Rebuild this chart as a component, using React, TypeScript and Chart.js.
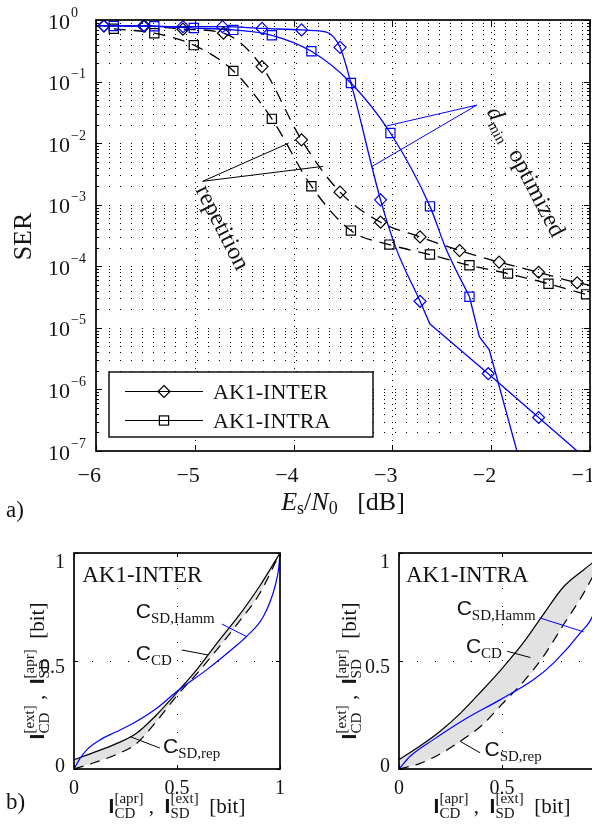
import React, { useEffect, useRef } from 'react';
import { Chart, registerables } from 'chart.js';

Chart.register(...registerables);

const SERIF = '"Liberation Serif","Times New Roman",Times,serif';
const SANS = '"Liberation Sans",Arial,Helvetica,sans-serif';
const INK = '#141414';
const BLUE = '#0000ff';

// ---------------- (a) SER vs Es/N0 ----------------
const xTicksA = [-6, -5, -4, -3, -2, -1];
const yDecadesA = [0, -1, -2, -3, -4, -5, -6, -7];
const legendLabelsA = ['AK1-INTER', 'AK1-INTRA'];

// dmin optimized, AK1-INTER (blue, diamonds): smooth upper part, straight lower part
const optInterUpperX = [-6, -5.92, -5.52, -5.12, -4.72, -4.32, -3.92, -3.75, -3.64, -3.53, -3.42, -3.12, -2.96, -2.72, -2.62];
const optInterUpperY = [0.8, 0.8, 0.8, 0.78, 0.78, 0.73, 0.69, 0.665, 0.61, 0.36, 0.095, 1.2e-3, 1.9e-4, 2.7e-5, 1.15e-5];
const optInterLowerX = [-2.62, -2.03, -1.52, -1.13, -0.9];
const optInterLowerY = [1.15e-5, 1.8e-6, 3.5e-7, 1.0e-7, 4.9e-8];
const optInterMarkX = [-5.92, -5.52, -5.12, -4.72, -4.32, -3.92, -3.53, -3.12, -2.72, -2.03, -1.52];
const optInterMarkY = [0.8, 0.8, 0.78, 0.78, 0.73, 0.69, 0.36, 1.2e-3, 2.7e-5, 1.8e-6, 3.5e-7];

// dmin optimized, AK1-INTRA (blue, squares)
const optIntraUpperX = [-6, -5.82, -5.41, -5.01, -4.61, -4.22, -3.82, -3.42, -3.02, -2.62, -2.46, -2.22];
const optIntraUpperY = [0.8, 0.8, 0.79, 0.74, 0.69, 0.565, 0.31, 0.095, 0.0146, 9.4e-4, 1.96e-4, 3.2e-5];
const optIntraLowerX = [-2.22, -2.12, -2.02, -1.74, -1.6];
const optIntraLowerY = [3.2e-5, 7.2e-6, 4.4e-6, 1.0e-7, 1.4e-8];
const optIntraMarkX = [-5.82, -5.41, -5.01, -4.61, -4.22, -3.82, -3.42, -3.02, -2.62, -2.22];
const optIntraMarkY = [0.8, 0.79, 0.74, 0.69, 0.565, 0.31, 0.095, 0.0146, 9.4e-4, 3.2e-5];

// repetition, AK1-INTER (black dashed, diamonds)
const repInterX = [-5.92, -5.51, -5.12, -4.71, -4.32, -3.92, -3.53, -3.12, -2.72, -2.32, -1.92, -1.52, -1.13, -0.9];
const repInterY = [0.8, 0.8, 0.71, 0.61, 0.175, 0.0113, 1.6e-3, 5.2e-4, 3.0e-4, 1.8e-4, 1.17e-4, 8.0e-5, 5.4e-5, 4.6e-5];
const repInterMarks = 13;

// repetition, AK1-INTRA (black dashed, squares)
const repIntraX = [-5.82, -5.41, -5.01, -4.61, -4.22, -3.82, -3.42, -3.03, -2.62, -2.22, -1.83, -1.42, -1.04, -0.8];
const repIntraY = [0.72, 0.61, 0.39, 0.149, 0.0248, 2.0e-3, 3.8e-4, 2.25e-4, 1.55e-4, 1.04e-4, 7.6e-5, 5.2e-5, 3.5e-5, 2.9e-5];
const repIntraMarks = 13;

// annotations (data coordinates)
const repTextA = { x: -4.74, y: 4.1e-4, angle: 63 };
const repPtrA = [[-4.92, 2.4e-3, -4.05, 1.0e-2], [-4.92, 2.4e-3, -3.70, 4.2e-3]];
const dminTextA = { x: -1.67, y: 3.3e-3, angle: 62.5 };
const dminPtrA = [[-2.145, 4.15e-2, -3.06, 1.9e-2], [-2.145, 4.15e-2, -3.215, 4.1e-3]];

// ---------------- (b) EXIT charts ----------------
const exitX = [0, 0.1, 0.2, 0.3, 0.4, 0.5, 0.6, 0.7, 0.8, 0.9, 1];
const exitTicks = [0, 0.5, 1];
const exitTickLabels = ['0', '0.5', '1'];

const interCD = [0.043, 0.078, 0.115, 0.163, 0.25, 0.355, 0.465, 0.59, 0.71, 0.845, 1];
const interRep = [0, 0.03, 0.065, 0.115, 0.22, 0.34, 0.445, 0.56, 0.68, 0.81, 1];
const interHammX = [0, 0.03, 0.063, 0.128, 0.2, 0.29, 0.4, 0.5, 0.645, 0.774, 0.838, 0.92, 0.976, 0.995, 1];
const interHammY = [0, 0.05, 0.09, 0.136, 0.17, 0.213, 0.28, 0.36, 0.46, 0.56, 0.614, 0.707, 0.846, 0.94, 1];

const intraCD = [0.043, 0.105, 0.175, 0.26, 0.36, 0.465, 0.58, 0.715, 0.845, 0.925, 1];
const intraRep = [0, 0.025, 0.07, 0.13, 0.2, 0.3, 0.4, 0.52, 0.67, 0.82, 1];
const intraHammX = [0, 0.054, 0.167, 0.33, 0.49, 0.654, 0.75, 0.88, 0.945, 0.98, 1];
const intraHammY = [0, 0.059, 0.136, 0.236, 0.32, 0.414, 0.49, 0.63, 0.72, 0.85, 1];

const darkX = [0, 0.04];
const darkTop = [0.043, 0.058];
const darkBottom = [0, 0.058];

const pts = (xs: number[], ys: number[]) => xs.map((x, i) => ({ x, y: ys[i] }));

// ---------------- text helpers ----------------
type Piece = { t: string; f: string; dy?: number };
type Seg = Piece | { stack: Piece[] };

function drawRich(ctx: CanvasRenderingContext2D, segs: Seg[], x: number, y: number, align: 'left' | 'center' | 'right', angleDeg = 0, color = INK) {
  ctx.save();
  ctx.translate(x, y);
  if (angleDeg) ctx.rotate((angleDeg * Math.PI) / 180);
  ctx.textAlign = 'left';
  ctx.textBaseline = 'alphabetic';
  ctx.fillStyle = color;
  const ws = segs.map((s) => {
    const parts = 'stack' in s ? s.stack : [s];
    let w = 0;
    for (const p of parts) { ctx.font = p.f; w = Math.max(w, ctx.measureText(p.t).width); }
    return w;
  });
  const total = ws.reduce((a, b) => a + b, 0);
  let cx = align === 'center' ? -total / 2 : align === 'right' ? -total : 0;
  segs.forEach((s, i) => {
    const parts = 'stack' in s ? s.stack : [s];
    for (const p of parts) { ctx.font = p.f; ctx.fillText(p.t, cx, p.dy || 0); }
    cx += ws[i];
  });
  ctx.restore();
}

function line(ctx: CanvasRenderingContext2D, x1: number, y1: number, x2: number, y2: number) {
  ctx.beginPath(); ctx.moveTo(x1, y1); ctx.lineTo(x2, y2); ctx.stroke();
}

function diamond(ctx: CanvasRenderingContext2D, x: number, y: number, r: number) {
  ctx.beginPath(); ctx.moveTo(x, y - r); ctx.lineTo(x + r, y); ctx.lineTo(x, y + r); ctx.lineTo(x - r, y); ctx.closePath(); ctx.stroke();
}

// ---------------- plugin (a) ----------------
const plugA = {
  id: 'figA',
  beforeDatasetsDraw(chart: any) {
    const { ctx, chartArea: ca } = chart;
    const sx = chart.scales.x, sy = chart.scales.y;
    ctx.save();
    ctx.strokeStyle = '#000';
    ctx.lineWidth = 1;
    ctx.setLineDash([1, 10]);
    ctx.lineDashOffset = 9;
    for (let e = -7; e < 0; e++) {
      for (let m = 1; m < 10; m++) {
        const py = Math.round(sy.getPixelForValue(m * Math.pow(10, e))) + 0.5;
        if (py < ca.top + 2 || py > ca.bottom - 2) continue;
        line(ctx, ca.left, py, ca.right, py);
      }
    }
    ctx.setLineDash([1, 5]);
    ctx.lineDashOffset = 0;
    for (const t of xTicksA) {
      const px = Math.round(sx.getPixelForValue(t)) + 0.5;
      if (px < ca.left + 2 || px > ca.right - 2) continue;
      line(ctx, px, ca.top, px, ca.bottom);
    }
    ctx.restore();
  },
  afterDatasetsDraw(chart: any) {
    const { ctx, chartArea: ca } = chart;
    const sx = chart.scales.x, sy = chart.scales.y;
    const X = (v: number) => sx.getPixelForValue(v);
    const Y = (v: number) => sy.getPixelForValue(v);
    ctx.save();
    ctx.strokeStyle = '#000';
    ctx.lineWidth = 1;
    for (const t of xTicksA) {
      const px = Math.round(X(t)) + 0.5;
      line(ctx, px, ca.bottom, px, ca.bottom - 6);
      line(ctx, px, ca.top, px, ca.top + 6);
    }
    for (let e = -7; e <= 0; e++) {
      for (let m = 1; m < 10; m++) {
        const v = m * Math.pow(10, e);
        if (v > 1) break;
        const py = Math.round(Y(v)) + 0.5;
        const len = m === 1 ? 6 : 3;
        line(ctx, ca.left, py, ca.left + len, py);
        line(ctx, ca.right, py, ca.right - len, py);
      }
    }
    ctx.lineWidth = 1.7;
    ctx.strokeRect(ca.left, ca.top, ca.right - ca.left, ca.bottom - ca.top);

    for (const e of yDecadesA) {
      const py = Y(Math.pow(10, e));
      drawRich(ctx, [{ t: '10', f: `22px ${SERIF}` }], ca.left - 48, py + 8.5, 'left');
      drawRich(ctx, [{ t: e === 0 ? '0' : '\u2212' + -e, f: `14px ${SERIF}` }], ca.left - 25, py - 3.5, 'left');
    }
    for (const t of xTicksA) {
      drawRich(ctx, [{ t: t < 0 ? '\u2212' + -t : String(t), f: `22px ${SERIF}` }], X(t) + 5, ca.bottom + 31, 'right');
    }
    drawRich(ctx, [{ t: 'SER', f: `26px ${SERIF}` }], 31, (ca.top + ca.bottom) / 2 + 1, 'center', -90);
    drawRich(ctx, [
      { t: 'E', f: `italic 26px ${SERIF}` },
      { t: 's', f: `18px ${SERIF}`, dy: 4 },
      { t: '/', f: `26px ${SERIF}` },
      { t: 'N', f: `italic 26px ${SERIF}` },
      { t: '0', f: `18px ${SERIF}`, dy: 4 },
      { t: '   [dB]', f: `26px ${SERIF}` },
    ], (ca.left + ca.right) / 2, ca.bottom + 59, 'center');
    drawRich(ctx, [{ t: 'a)', f: `23px ${SERIF}` }], 6, ca.bottom + 66, 'left');

    ctx.strokeStyle = '#000';
    ctx.lineWidth = 1;
    for (const p of repPtrA) line(ctx, X(p[0]), Y(p[1]), X(p[2]), Y(p[3]));
    drawRich(ctx, [{ t: 'repetition', f: `24px ${SERIF}`, dy: 5 }], X(repTextA.x), Y(repTextA.y), 'center', repTextA.angle);
    ctx.strokeStyle = BLUE;
    for (const p of dminPtrA) line(ctx, X(p[0]), Y(p[1]), X(p[2]), Y(p[3]));
    drawRich(ctx, [
      { t: 'd', f: `italic 24px ${SERIF}`, dy: 5 },
      { t: 'min', f: `15px ${SERIF}`, dy: 10 },
      { t: '  optimized', f: `24px ${SERIF}`, dy: 5 },
    ], X(dminTextA.x), Y(dminTextA.y), 'center', dminTextA.angle);

    const lx0 = ca.left + 13, ly0 = ca.bottom - 79, lx1 = ca.left + 277, ly1 = ca.bottom - 14;
    ctx.fillStyle = '#fff';
    ctx.fillRect(lx0, ly0, lx1 - lx0, ly1 - ly0);
    ctx.strokeStyle = '#000';
    ctx.lineWidth = 1.4;
    ctx.strokeRect(lx0, ly0, lx1 - lx0, ly1 - ly0);
    legendLabelsA.forEach((lab, i) => {
      const ry = ly0 + 19.5 + i * 29;
      ctx.lineWidth = 1;
      ctx.strokeStyle = '#000';
      line(ctx, lx0 + 16, ry, lx0 + 94, ry);
      ctx.lineWidth = 1.2;
      if (i === 0) diamond(ctx, lx0 + 55, ry, 6);
      else ctx.strokeRect(lx0 + 55 - 4.6, ry - 4.6, 9.2, 9.2);
      drawRich(ctx, [{ t: lab, f: `22px ${SERIF}` }], lx0 + 104, ry + 7.5, 'left');
    });
    ctx.restore();
  },
};

function cfgA(): any {
  const curve = (xs: number[], ys: number[], color: string, dash: number[], smooth: boolean) => ({
    data: pts(xs, ys), borderColor: color, borderWidth: 1.3, borderDash: dash, pointRadius: 0,
    cubicInterpolationMode: smooth ? 'monotone' : 'default', tension: 0, fill: false, showLine: true,
  });
  const marks = (xs: number[], ys: number[], color: string, style: string, r: number) => ({
    data: pts(xs, ys), showLine: false, pointStyle: style, pointRadius: r, pointBorderColor: color,
    pointBackgroundColor: 'rgba(0,0,0,0)', pointBorderWidth: 1.2, borderColor: color,
  });
  return {
    type: 'line',
    data: {
      datasets: [
        marks(optInterMarkX, optInterMarkY, BLUE, 'rectRot', 6),
        marks(optIntraMarkX, optIntraMarkY, BLUE, 'rect', 6.5),
        marks(repInterX.slice(0, repInterMarks), repInterY.slice(0, repInterMarks), '#000', 'rectRot', 6),
        marks(repIntraX.slice(0, repIntraMarks), repIntraY.slice(0, repIntraMarks), '#000', 'rect', 6.5),
        curve(optInterUpperX, optInterUpperY, BLUE, [], true),
        curve(optInterLowerX, optInterLowerY, BLUE, [], false),
        curve(optIntraUpperX, optIntraUpperY, BLUE, [], true),
        curve(optIntraLowerX, optIntraLowerY, BLUE, [], false),
        curve(repInterX, repInterY, '#000', [12, 8], true),
        curve(repIntraX, repIntraY, '#000', [12, 8], true),
      ],
    },
    options: {
      animation: false,
      responsive: false,
      events: [],
      layout: { padding: { left: 96, right: 50, top: 20, bottom: 79 }, autoPadding: false },
      scales: {
        x: { type: 'linear', min: -6, max: -1, display: false },
        y: { type: 'logarithmic', min: 1e-7, max: 1, display: false },
      },
      plugins: { legend: { display: false }, tooltip: { enabled: false } },
    },
    plugins: [plugA],
  };
}

// ---------------- (b) EXIT charts ----------------
type ExitSpec = {
  id: string;
  title: string;
  cd: number[];
  rep: number[];
  hammX: number[];
  hammY: number[];
  hammText: [number, number];
  hammPtr: number[];
  cdText: [number, number];
  cdPtr: number[];
  repText: [number, number];
  repPtr: number[];
  titleX: number;
  ylabelX: number;
  showB: boolean;
};

const interSpec: ExitSpec = {
  id: 'inter', title: 'AK1-INTER', cd: interCD, rep: interRep, hammX: interHammX, hammY: interHammY,
  hammText: [0.30, 0.736], hammPtr: [0.718, 0.671, 0.84, 0.612],
  cdText: [0.30, 0.539], cdPtr: [0.523, 0.551, 0.65, 0.528],
  repText: [0.432, 0.109], repPtr: [0.272, 0.15, 0.417, 0.097],
  titleX: 0.04, ylabelX: -30, showB: true,
};
const intraSpec: ExitSpec = {
  id: 'intra', title: 'AK1-INTRA', cd: intraCD, rep: intraRep, hammX: intraHammX, hammY: intraHammY,
  hammText: [0.28, 0.75], hammPtr: [0.682, 0.70, 0.896, 0.635],
  cdText: [0.325, 0.573], cdPtr: [0.525, 0.545, 0.638, 0.516],
  repText: [0.415, 0.093], repPtr: [0.297, 0.128, 0.394, 0.075],
  titleX: 0.034, ylabelX: -43, showB: false,
};

const ytickBaseline = [3, 12, 15];

function exitPlugin(s: ExitSpec) {
  return {
    id: 'exit-' + s.id,
    beforeDraw(chart: any) {
      const { ctx, chartArea: ca } = chart;
      const X = (v: number) => chart.scales.x.getPixelForValue(v);
      const Y = (v: number) => chart.scales.y.getPixelForValue(v);
      ctx.save();
      ctx.strokeStyle = '#000';
      ctx.lineWidth = 1;
      ctx.setLineDash([1, 17]);
      const px = Math.round(X(0.5)) + 0.5, py = Math.round(Y(0.5)) + 0.5;
      line(ctx, px, ca.bottom, px, ca.top);
      line(ctx, ca.left, py, ca.right, py);
      ctx.restore();
    },
    afterDatasetsDraw(chart: any) {
      const { ctx, chartArea: ca } = chart;
      const X = (v: number) => chart.scales.x.getPixelForValue(v);
      const Y = (v: number) => chart.scales.y.getPixelForValue(v);
      ctx.save();
      ctx.strokeStyle = '#000';
      ctx.lineWidth = 1;
      for (const t of exitTicks) {
        const px = Math.round(X(t)) + 0.5, py = Math.round(Y(t)) + 0.5;
        line(ctx, px, ca.bottom, px, ca.bottom - 4);
        line(ctx, px, ca.top, px, ca.top + 4);
        line(ctx, ca.left, py, ca.left + 4, py);
        line(ctx, ca.right, py, ca.right - 4, py);
      }
      ctx.lineWidth = 1.7;
      ctx.strokeRect(ca.left, ca.top, ca.right - ca.left, ca.bottom - ca.top);

      exitTicks.forEach((t, i) => {
        drawRich(ctx, [{ t: exitTickLabels[i], f: `20px ${SERIF}` }], X(t), ca.bottom + 25, 'center');
        drawRich(ctx, [{ t: exitTickLabels[i], f: `20px ${SERIF}` }], ca.left - 9, Y(t) + ytickBaseline[i], 'right');
      });

      drawRich(ctx, [{ t: s.title, f: `23px ${SERIF}` }], X(s.titleX), ca.top + 29, 'left');

      const cLabel = (sub: string, pos: [number, number]) =>
        drawRich(ctx, [{ t: 'C', f: `21px ${SANS}` }, { t: sub, f: `15px ${SERIF}`, dy: 5 }], X(pos[0]), Y(pos[1]) + 7.5, 'left');
      cLabel('SD,Hamm', s.hammText);
      cLabel('CD', s.cdText);
      cLabel('SD,rep', s.repText);
      ctx.lineWidth = 1;
      ctx.strokeStyle = BLUE;
      line(ctx, X(s.hammPtr[0]), Y(s.hammPtr[1]), X(s.hammPtr[2]), Y(s.hammPtr[3]));
      ctx.strokeStyle = '#000';
      line(ctx, X(s.cdPtr[0]), Y(s.cdPtr[1]), X(s.cdPtr[2]), Y(s.cdPtr[3]));
      line(ctx, X(s.repPtr[0]), Y(s.repPtr[1]), X(s.repPtr[2]), Y(s.repPtr[3]));

      const lab = (a: string, b: string) => [
        { t: 'I', f: `bold 21px ${SANS}` },
        { stack: [{ t: a, f: `15px ${SERIF}`, dy: -10 }, { t: 'CD', f: `15px ${SERIF}`, dy: 5 }] },
        { t: ' ,  ', f: `21px ${SERIF}` },
        { t: 'I', f: `bold 21px ${SANS}` },
        { stack: [{ t: b, f: `15px ${SERIF}`, dy: -10 }, { t: 'SD', f: `15px ${SERIF}`, dy: 5 }] },
        { t: '  [bit]', f: `21px ${SERIF}` },
      ] as Seg[];
      drawRich(ctx, lab('[apr]', '[ext]'), (ca.left + ca.right) / 2, ca.bottom + 44, 'center');
      drawRich(ctx, lab('[ext]', '[apr]'), ca.left + s.ylabelX, (ca.top + ca.bottom) / 2 + 10, 'center', -90);
      if (s.showB) drawRich(ctx, [{ t: 'b)', f: `23px ${SERIF}` }], 6, ca.bottom + 40, 'left');
      ctx.restore();
    },
  };
}

function cfgExit(s: ExitSpec): any {
  return {
    type: 'line',
    data: {
      datasets: [
        { data: pts(s.hammX, s.hammY), borderColor: BLUE, borderWidth: 1.2, pointRadius: 0, cubicInterpolationMode: 'monotone', fill: false },
        { data: pts(exitX, s.cd), borderColor: '#000', borderWidth: 1.2, pointRadius: 0, cubicInterpolationMode: 'monotone', fill: { target: 2 }, backgroundColor: '#e2e2e2' },
        { data: pts(exitX, s.rep), borderColor: '#000', borderWidth: 1.2, borderDash: [10, 7], pointRadius: 0, cubicInterpolationMode: 'monotone', fill: false },
        { data: pts(darkX, darkTop), borderWidth: 0, borderColor: 'rgba(0,0,0,0)', pointRadius: 0, fill: '+1', backgroundColor: '#7a7a7a' },
        { data: pts(darkX, darkBottom), borderWidth: 0, borderColor: 'rgba(0,0,0,0)', pointRadius: 0, fill: false },
      ],
    },
    options: {
      animation: false,
      responsive: false,
      events: [],
      layout: { padding: { left: s.showB ? 74 : 99, right: s.showB ? 20 : 25, top: 23, bottom: 63 }, autoPadding: false },
      scales: {
        x: { type: 'linear', min: 0, max: 1, display: false },
        y: { type: 'linear', min: 0, max: 1, display: false },
      },
      plugins: { legend: { display: false }, tooltip: { enabled: false }, filler: { drawTime: 'beforeDatasetsDraw' } },
    },
    plugins: [exitPlugin(s)],
  };
}

function ChartCanvas({ make, w, h, left, top }: { make: () => any; w: number; h: number; left: number; top: number }) {
  const ref = useRef<HTMLCanvasElement>(null);
  useEffect(() => {
    const c = new Chart(ref.current as HTMLCanvasElement, make());
    return () => c.destroy();
  }, []);
  return (
    <canvas ref={ref} width={w} height={h}
      style={{ position: 'absolute', left, top, width: w, height: h }} />
  );
}

export default function App() {
  return (
    <div style={{ position: 'absolute', left: 0, top: 0, width: 592, height: 832, overflow: 'hidden', background: '#fff' }}>
      <ChartCanvas make={cfgA} w={640} h={530} left={0} top={0} />
      <ChartCanvas make={() => cfgExit(interSpec)} w={300} h={302} left={0} top={530} />
      <ChartCanvas make={() => cfgExit(intraSpec)} w={330} h={302} left={300} top={530} />
    </div>
  );
}
